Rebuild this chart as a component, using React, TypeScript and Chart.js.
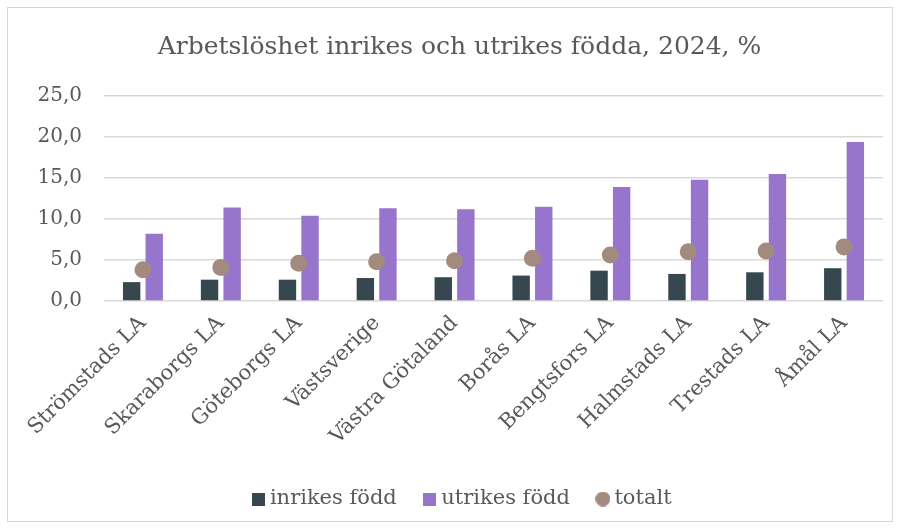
import React, { useEffect, useRef } from "react";
import { Chart, registerables } from "chart.js";

Chart.register(...registerables);

const categories = [
  "Strömstads LA",
  "Skaraborgs LA",
  "Göteborgs LA",
  "Västsverige",
  "Västra Götaland",
  "Borås LA",
  "Bengtsfors LA",
  "Halmstads LA",
  "Trestads LA",
  "Åmål LA",
];
const inrikes = [2.3, 2.6, 2.6, 2.8, 2.9, 3.1, 3.7, 3.3, 3.5, 4.0];
const utrikes = [8.2, 11.4, 10.4, 11.3, 11.2, 11.5, 13.9, 14.8, 15.5, 19.4];
const totalt = [3.8, 4.1, 4.6, 4.8, 4.9, 5.2, 5.6, 6.0, 6.1, 6.6];
const seriesNames = ["inrikes född", "utrikes född", "totalt"];
const yTicks = [0, 5, 10, 15, 20, 25];

const COL_IN = "#37474F";
const COL_UT = "#9775CD";
const COL_TOT = "#A38A7E";
const TEXT = "#595959";
const FONT = "'DejaVu Serif', Georgia, serif";

function makeIcon(kind: "rect" | "circle", color: string, size: number) {
  const c = document.createElement("canvas");
  c.width = size;
  c.height = size;
  const ctx = c.getContext("2d")!;
  ctx.fillStyle = color;
  if (kind === "rect") ctx.fillRect(0, 0, size, size);
  else {
    ctx.beginPath();
    ctx.arc(size / 2, size / 2, size / 2, 0, Math.PI * 2);
    ctx.fill();
  }
  return c;
}

const shiftBoxes = {
  id: "shiftBoxes",
  afterLayout(chart: any) {
    const lg = chart.legend;
    if (lg) {
      lg.left += 23;
      lg.right += 23;
    }
    const tb = chart.titleBlock;
    if (tb) {
      tb.left += 18;
      tb.right += 18;
    }
  },
};

export default function App() {
  const ref = useRef<HTMLCanvasElement>(null);
  useEffect(() => {
    document.body.style.margin = "0";
    const icons = [
      makeIcon("rect", COL_IN, 13),
      makeIcon("rect", COL_UT, 13),
      makeIcon("circle", COL_TOT, 15),
    ];
    const chart = new Chart(ref.current!, {
      type: "bar",
      plugins: [shiftBoxes],
      data: {
        labels: categories,
        datasets: [
          {
            type: "line",
            label: seriesNames[2],
            data: totalt,
            showLine: false,
            pointRadius: 8.5,
            pointHoverRadius: 8.5,
            pointBackgroundColor: COL_TOT,
            pointBorderWidth: 0,
            borderColor: COL_TOT,
            backgroundColor: COL_TOT,
            order: 0,
          } as any,
          {
            label: seriesNames[0],
            data: inrikes,
            backgroundColor: COL_IN,
            categoryPercentage: 0.58,
            barPercentage: 0.77,
            order: 1,
          },
          {
            label: seriesNames[1],
            data: utrikes,
            backgroundColor: COL_UT,
            categoryPercentage: 0.58,
            barPercentage: 0.77,
            order: 1,
          },
        ],
      },
      options: {
        animation: false,
        responsive: false,
        layout: { padding: { left: 0, right: 18, top: 0, bottom: 9.5 } },
        scales: {
          x: {
            grid: { display: false },
            border: { display: false },
            ticks: {
              color: TEXT,
              font: { family: FONT, size: 21 },
              maxRotation: 45,
              minRotation: 45,
              padding: 2,
            },
            afterFit: (s: any) => {
              s.height = 155.5;
            },
          },
          y: {
            min: 0,
            max: 25,
            afterBuildTicks: (s: any) => {
              s.ticks = yTicks.map((v) => ({ value: v }));
            },
            grid: { color: "#D9D9D9", lineWidth: 1.5, drawTicks: false },
            border: { display: false },
            ticks: {
              color: TEXT,
              font: { family: FONT, size: 20 },
              padding: 22,
              callback: (v: any) => Number(v).toFixed(1).replace(".", ","),
            },
            afterFit: (s: any) => {
              s.width = 104;
            },
          },
        },
        plugins: {
          tooltip: { enabled: false },
          title: {
            display: true,
            text: "Arbetslöshet inrikes och utrikes födda, 2024, %",
            color: TEXT,
            font: { family: FONT, size: 25, weight: "normal" },
            padding: { top: 32, bottom: 34 },
          },
          legend: {
            position: "bottom",
            labels: {
              color: TEXT,
              font: { family: FONT, size: 21 },
              usePointStyle: true,
              boxWidth: 2,
              boxHeight: 13,
              padding: 32,
              generateLabels: (ch: any) => {
                const base = Chart.defaults.plugins.legend.labels.generateLabels(ch);
                const order = [1, 2, 0];
                return order.map((i) => {
                  const it = base.find((b: any) => b.datasetIndex === i)!;
                  const k = i === 1 ? 0 : i === 2 ? 1 : 2;
                  return { ...it, pointStyle: icons[k], fontColor: TEXT };
                });
              },
            },
          },
        },
      },
    });
    return () => chart.destroy();
  }, []);
  return (
    <div style={{ position: "relative", width: 901, height: 529, background: "#fff" }}>
      <canvas ref={ref} width={901} height={529} style={{ position: "absolute", left: 0, top: 0 }} />
      <div
        style={{
          position: "absolute",
          left: 7,
          top: 7,
          width: 886,
          height: 515,
          border: "1px solid #D9D9D9",
          boxSizing: "border-box",
          pointerEvents: "none",
        }}
      />
    </div>
  );
}
